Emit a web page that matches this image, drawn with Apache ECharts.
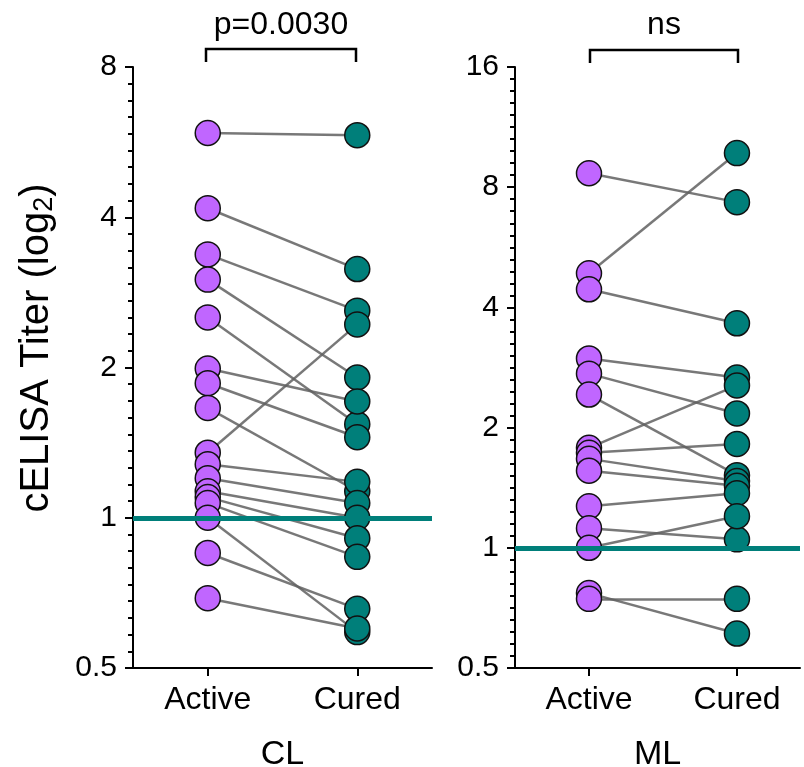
<!DOCTYPE html>
<html>
<head>
<meta charset="utf-8">
<script src="https://cdn.jsdelivr.net/npm/echarts@6/dist/echarts.min.js"></script>
<style>
  html, body { margin: 0; padding: 0; background: #fff; }
  #chart { width: 804px; height: 767px; }
</style>
</head>
<body>
<div id="chart"></div>
<script>
// groups on the x axis
const groups = ['Active', 'Cured'];
const panels = ['CL', 'ML'];

// cELISA titers, paired per subject (same index = same subject)
const clActive = [5.90, 4.17, 3.37, 3.00, 2.52, 1.99, 1.86, 1.66, 1.35, 1.28, 1.20, 1.13, 1.10, 1.07, 1.00, 0.85, 0.69];
const clCured  = [5.84, 3.15, 2.60, 1.91, 1.54, 1.71, 1.45, 1.13, 2.44, 1.18, 1.07, 1.00, 0.91, 0.835, 0.59, 0.657, 0.60];

const mlActive = [8.67, 4.87, 4.44, 2.98, 2.73, 2.42, 1.78, 1.73, 1.67, 1.56, 1.27, 1.12, 1.00, 0.77, 0.745];
const mlCured  = [7.34, 9.74, 3.65, 2.67, 2.17, 1.52, 2.55, 1.82, 1.47, 1.43, 1.37, 1.05, 1.20, 0.61, 0.745];

// y axis ranges (log2) and annotations
const yMax = [8, 16];
const yMin = 0.5;
const minorSplits = [9, 10];
const cutoff = 1;
const pLabels = ['p=0.0030', 'ns'];

const purple = '#C066FF';
const teal = '#007F7A';
const font = '"Liberation Sans", Arial, Helvetica, sans-serif';

const chart = echarts.init(document.getElementById('chart'));

const grids = [
  { left: 133, top: 67, width: 299, height: 601, outerBoundsMode: 'none' },
  { left: 515, top: 67, width: 285, height: 601, outerBoundsMode: 'none' }
];

function xAxisFor(i, max) {
  return {
    type: 'value',
    gridIndex: i,
    min: -0.5,
    max: max,
    name: panels[i],
    nameLocation: 'middle',
    nameGap: 70,
    nameTextStyle: { fontSize: 34, color: '#000', fontFamily: font },
    splitLine: { show: false },
    axisLine: { show: true, onZero: false, lineStyle: { color: '#000', width: 2 } },
    axisTick: { show: true, length: 8, customValues: [0, 1], lineStyle: { color: '#000', width: 2 } },
    axisLabel: {
      customValues: [0, 1],
      margin: 16,
      fontSize: 32,
      color: '#000',
      fontFamily: font,
      formatter: function (v) { return groups[Math.round(v)]; }
    }
  };
}

// log2 axis: line, major ticks, labels
function yAxisFor(i) {
  return {
    type: 'log',
    logBase: 2,
    gridIndex: i,
    position: 'left',
    min: yMin,
    max: yMax[i],
    splitLine: { show: false },
    axisLine: { show: true, onZero: false, lineStyle: { color: '#000', width: 2 } },
    axisTick: { show: true, length: 8, lineStyle: { color: '#000', width: 2 } },
    axisLabel: { fontSize: 30, color: '#000', fontFamily: font, margin: 16 }
  };
}

// same range in log2 units, only used to place the evenly spaced minor ticks
function minorAxisFor(i) {
  return {
    type: 'value',
    gridIndex: i,
    position: 'left',
    offset: 0,
    min: Math.log2(yMin),
    max: Math.log2(yMax[i]),
    interval: 1,
    splitLine: { show: false },
    axisLine: { show: false, onZero: false },
    axisTick: { show: false },
    axisLabel: { show: false },
    minorTick: { show: true, splitNumber: minorSplits[i], length: 5, lineStyle: { color: '#000', width: 2 } }
  };
}

function panelSeries(i, active, cured) {
  const pairs = active.map(function (a, k) {
    return { coords: [[0, a], [1, cured[k]]] };
  });
  return [
    {
      type: 'lines',
      coordinateSystem: 'cartesian2d',
      xAxisIndex: i,
      yAxisIndex: i,
      z: 1,
      silent: true,
      lineStyle: { color: '#606060', width: 2.5, opacity: 0.85 },
      data: pairs,
      markLine: {
        silent: true,
        symbol: 'none',
        label: { show: false },
        lineStyle: { color: teal, width: 5, type: 'solid', opacity: 1 },
        data: [{ yAxis: cutoff }]
      }
    },
    {
      type: 'scatter',
      name: groups[0],
      xAxisIndex: i,
      yAxisIndex: i,
      z: 3,
      symbolSize: 25,
      itemStyle: { color: purple, borderColor: '#111', borderWidth: 1.5, opacity: 1 },
      data: active.map(function (v) { return [0, v]; })
    },
    {
      type: 'scatter',
      name: groups[1],
      xAxisIndex: i,
      yAxisIndex: i,
      z: 3,
      symbolSize: 25,
      itemStyle: { color: teal, borderColor: '#111', borderWidth: 1.5, opacity: 1 },
      data: cured.map(function (v) { return [1, v]; })
    }
  ];
}

function bracket(x1, x2, yTop, yLeg, label) {
  return [
    {
      type: 'polyline',
      shape: { points: [[x1, yLeg], [x1, yTop], [x2, yTop], [x2, yLeg]] },
      style: { stroke: '#000', lineWidth: 2.5, fill: null }
    },
    {
      type: 'text',
      x: (x1 + x2) / 2,
      y: 25,
      style: {
        text: label, fill: '#000', font: '32px ' + font,
        textAlign: 'center', textVerticalAlign: 'middle'
      }
    }
  ];
}

const option = {
  animation: false,
  backgroundColor: '#fff',
  grid: grids,
  xAxis: [xAxisFor(0, 1.5), xAxisFor(1, 1.426)],
  yAxis: [yAxisFor(0), yAxisFor(1), minorAxisFor(0), minorAxisFor(1)],
  series: panelSeries(0, clActive, clCured).concat(panelSeries(1, mlActive, mlCured)),
  graphic: [
    {
      type: 'text',
      x: 37,
      y: 348,
      rotation: Math.PI / 2,
      style: {
        text: 'cELISA Titer (log{sub|2})',
        fill: '#000',
        font: '40px ' + font,
        textAlign: 'center',
        textVerticalAlign: 'middle',
        rich: { sub: { fontSize: 27, fontFamily: font, verticalAlign: 'bottom', padding: [15, 0, 0, 0] } }
      }
    }
  ].concat(bracket(206, 356, 49, 62, pLabels[0]), bracket(590, 738, 50, 63, pLabels[1]))
};

chart.setOption(option);
</script>
</body>
</html>
